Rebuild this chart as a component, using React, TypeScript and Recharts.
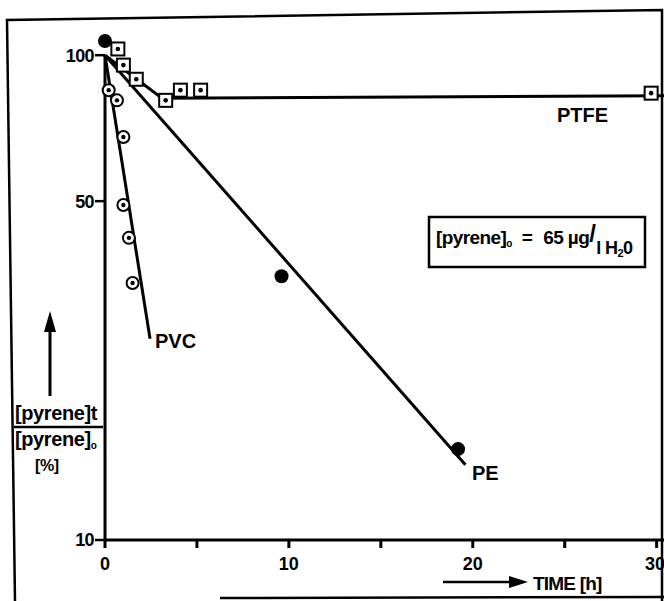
import React from 'react';
import { ComposedChart, XAxis, YAxis, Line, Scatter, ReferenceLine } from 'recharts';

const pePoints = [
    { t: 0, v: 107 },
    { t: 9.6, v: 35 },
    { t: 19.2, v: 15.4 },
];
const ptfePoints = [
    { t: 0.7, v: 103 },
    { t: 1.0, v: 95.4 },
    { t: 1.7, v: 89.2 },
    { t: 3.3, v: 80.7 },
    { t: 4.1, v: 84.7 },
    { t: 5.2, v: 84.7 },
    { t: 29.7, v: 83.5 },
];
const pvcPoints = [
    { t: 0.2, v: 84.7 },
    { t: 0.65, v: 80.7 },
    { t: 1.0, v: 67.8 },
    { t: 1.0, v: 49.1 },
    { t: 1.3, v: 42.0 },
    { t: 1.5, v: 33.9 },
];

// fitted lines
const peFit = [{ t: 0, v: 100 }, { t: 19.6, v: 14.3 }];
const pvcFit = [{ t: 0, v: 100 }, { t: 2.45, v: 26 }];
const ptfeFit = [{ t: 0, v: 100 }, { t: 3.1, v: 81.5 }, { t: 30.4, v: 82.5 }];

const xTicks = [0, 5, 10, 15, 20, 25, 30];
const yTicks = [10, 50, 100];

const FONT = '"Liberation Sans", Arial, sans-serif';

const FilledDot = (props: any) => {
    const { cx, cy } = props;
    return <circle cx={cx} cy={cy} r={7} fill="#000" />;
};

const SquareDot = (props: any) => {
    const { cx, cy } = props;
    return (
        <g>
            <rect x={cx - 6.5} y={cy - 6.5} width={13} height={13} fill="#fff" stroke="#000" strokeWidth={2} />
            <circle cx={cx} cy={cy} r={2.3} fill="#000" />
        </g>
    );
};

const RingDot = (props: any) => {
    const { cx, cy } = props;
    return (
        <g>
            <circle cx={cx} cy={cy} r={6} fill="#fff" stroke="#000" strokeWidth={2} />
            <circle cx={cx} cy={cy} r={2.2} fill="#000" />
        </g>
    );
};

const App = () => {
    return (
        <div style={{ position: 'absolute', left: 0, top: 0, width: 664, height: 601, background: '#fff', fontFamily: FONT }}>
            <ComposedChart width={664} height={601} margin={{ top: 39, right: 0, bottom: 21, left: 0 }}>
                <XAxis
                    type="number"
                    dataKey="t"
                    domain={[0, 30.4]}
                    ticks={xTicks}
                    tickFormatter={(v: number) => (v % 10 === 0 ? String(v) : '')}
                    stroke="#000"
                    strokeWidth={3}
                    tickSize={8}
                    tickMargin={9}
                    height={40}
                    tick={{ fill: '#000', fontSize: 18, fontWeight: 700, fontFamily: FONT }}
                />
                <YAxis
                    type="number"
                    dataKey="v"
                    scale="log"
                    domain={[10, 108]}
                    ticks={yTicks}
                    axisLine={false}
                    tickLine={{ stroke: '#000', strokeWidth: 2.5 }}
                    tickSize={10}
                    tickMargin={1}
                    width={105}
                    tick={{ fill: '#000', fontSize: 18, fontWeight: 700, fontFamily: FONT, letterSpacing: -0.6 }}
                />
                <ReferenceLine segment={[{ x: 0, y: 10 }, { x: 0, y: 100 }]} stroke="#000" strokeWidth={3} />
                <Line data={peFit} dataKey="v" stroke="#000" strokeWidth={3} dot={false} isAnimationActive={false} />
                <Line data={pvcFit} dataKey="v" stroke="#000" strokeWidth={3} dot={false} isAnimationActive={false} />
                <Line data={ptfeFit} dataKey="v" stroke="#000" strokeWidth={3} dot={false} isAnimationActive={false} />
                <Scatter data={pePoints} dataKey="v" shape={FilledDot} isAnimationActive={false} />
                <Scatter data={ptfePoints} dataKey="v" shape={SquareDot} isAnimationActive={false} />
                <Scatter data={pvcPoints} dataKey="v" shape={RingDot} isAnimationActive={false} />
            </ComposedChart>

            <svg width={664} height={601} style={{ position: 'absolute', left: 0, top: 0, pointerEvents: 'none' }}>
                {/* outer frame */}
                <path d="M15,601 L7,20 L662,10 L662,601" fill="none" stroke="#000" strokeWidth={2.5} />
                <line x1={220} y1={598} x2={664} y2={597} stroke="#000" strokeWidth={2.5} />

                <g fontFamily={FONT} fontWeight={700} fontSize={20} fill="#000">
                    <text x={557} y={122}>PTFE</text>
                    <text x={155} y={348}>PVC</text>
                    <text x={472} y={480}>PE</text>
                </g>

                {/* concentration box */}
                <rect x={429} y={217} width={216} height={50} fill="#fff" stroke="#000" strokeWidth={2.5} />
                <text x={436} y={244} fontFamily={FONT} fontWeight={700} fontSize={19} fill="#000" letterSpacing={-0.6}>
                    [pyrene]<tspan fontSize={10} dy={3}>o</tspan>
                    <tspan dy={-3} dx={10}>=</tspan>
                    <tspan dx={11}>65 µg</tspan>
                    <tspan fontSize={24} dy={-2}>/</tspan>
                    <tspan dy={12} fontSize={18} dx={1}>l H</tspan>
                    <tspan fontSize={11} dy={3}>2</tspan>
                    <tspan dy={-3} fontSize={18}>0</tspan>
                </text>

                {/* y label */}
                <line x1={50} y1={396} x2={50} y2={326} stroke="#000" strokeWidth={3} />
                <polygon points="50,311 44,332 56,332" fill="#000" />
                <g fontFamily={FONT} fontWeight={700} fontSize={20} fill="#000" letterSpacing={-0.4}>
                    <text x={15} y={420}>[pyrene]t</text>
                    <line x1={14} y1={427} x2={103} y2={427} stroke="#000" strokeWidth={2.5} />
                    <text x={15} y={446}>[pyrene]<tspan fontSize={10} dy={3}>o</tspan></text>
                    <text x={35} y={471} fontSize={16}>[%]</text>
                </g>

                {/* x label */}
                <line x1={443} y1={582} x2={512} y2={582} stroke="#000" strokeWidth={2.5} />
                <polygon points="528,582 509,576 509,588" fill="#000" />
                <text x={533} y={590} fontFamily={FONT} fontWeight={700} fontSize={19} fill="#000" letterSpacing={-0.8}>TIME [h]</text>
            </svg>
        </div>
    );
};

export default App;
